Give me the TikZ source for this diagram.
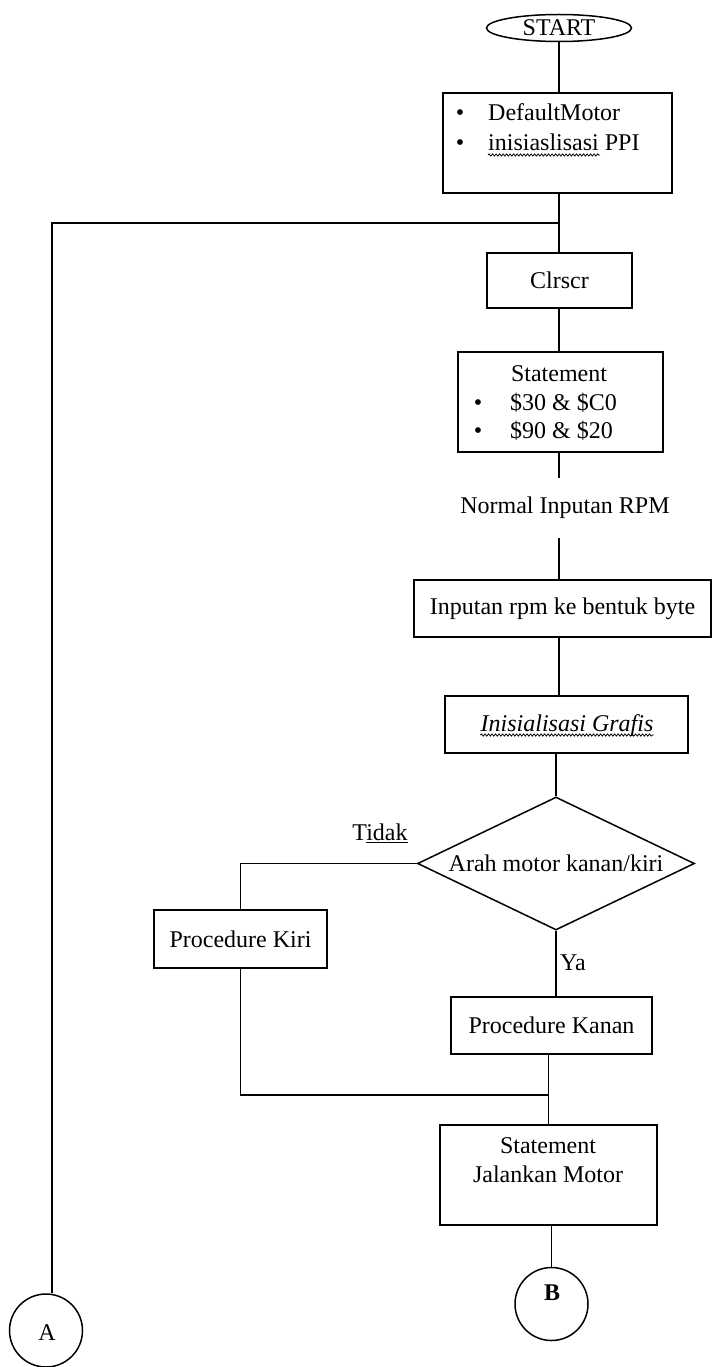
\documentclass[tikz,border=0pt]{standalone}
\usepackage{fontspec}
\setmainfont{Liberation Serif}
\usetikzlibrary{shapes.geometric,decorations.pathmorphing}
\begin{document}
\begin{tikzpicture}[x=1pt,y=-1pt,
  every node/.style={font=\fontsize{24}{28}\selectfont, inner sep=0pt},
  line/.style={line width=1.5pt},
  box/.style={draw, rectangle, line width=1.8pt, inner sep=0pt},
  wavy/.style={decorate, decoration={snake, amplitude=1.1pt, segment length=3.5pt}, line width=0.8pt},
  txt/.style={anchor=base west},
  bul/.style={anchor=base},
  ]
\useasboundingbox (0,0) rectangle (713,1367);
\coordinate (sp) at (559,0);

% START
\node[draw, ellipse, line width=1.5pt, minimum width=145pt, minimum height=27pt] (start) at (559,28) {START};

% box 1
\node[box, minimum width=229pt, minimum height=100pt] (b1) at (557.5,143) {};
\node[bul] (b1u1) at (460,121) {•};
\node[txt] (b1a) at (488,121) {DefaultMotor};
\node[bul] (b1u2) at (460,151) {•};
\node[txt] (b1b) at (488,151) {inisiaslisasi PPI};
\draw[wavy] ([yshift=-4pt]b1b.base west) -- ++(112,0);

% Clrscr
\node[box, minimum width=145pt, minimum height=55pt] (clr) at (559.5,280.5) {Clrscr};

% Statement box
\node[box, minimum width=205pt, minimum height=100pt] (st) at (560.5,402) {};
\node[anchor=base] (sta) at (559,381) {Statement};
\node[bul] (stu1) at (478,410) {•};
\node[txt] (stb) at (510,410) {\$30 \& \$C0};
\node[bul] (stu2) at (478,438) {•};
\node[txt] (stc) at (510,438) {\$90 \& \$20};

% Normal Inputan RPM
\node[minimum height=60pt] (nrm) at (565,508) {Normal Inputan RPM};

% Inputan
\node[box, minimum width=297pt, minimum height=57pt] (inp) at (562.5,608.5) {Inputan rpm ke bentuk byte};

% Grafis
\node[box, minimum width=243pt, minimum height=57pt] (gr) at (566.5,724.5) {};
\node[anchor=base] (grt) at (567,731) {\itshape Inisialisasi Grafis};
\draw[wavy] ([yshift=-4pt]grt.base west) -- ([yshift=-4pt]grt.base east);

% Decision
\node[draw, diamond, aspect=2.08, line width=1.5pt, minimum width=277pt, minimum height=133pt] (d) at (556,863.5) {Arah motor kanan/kiri};

\node[anchor=base] (tidak) at (380,840) {Tidak};
\draw[line width=0.7pt] ([xshift=14pt, yshift=-2.5pt]tidak.base west) -- ([yshift=-2.5pt]tidak.base east);

% Procedure Kiri
\node[box, minimum width=173pt, minimum height=58pt] (kiri) at (240.5,939) {Procedure Kiri};

% Ya
\node[anchor=west] (ya) at (560,963) {Ya};

% Procedure Kanan
\node[box, minimum width=201pt, minimum height=57pt] (kanan) at (551.5,1025.5) {Procedure Kanan};

\coordinate (j) at (548.5,1095);

% Statement Jalankan Motor
\node[box, minimum width=217pt, minimum height=100pt] (jal) at (548.5,1175) {};
\node[anchor=base] (jala) at (548,1153) {Statement};
\node[anchor=base] (jalb) at (548,1182) {Jalankan Motor};

% Connectors B and A
\node[draw, circle, line width=1.5pt, minimum size=73pt] (B) at (551.5,1304) {};
\node[anchor=base, font=\fontsize{24}{28}\selectfont\bfseries] (Bt) at (552,1300) {B};
\node[draw, circle, line width=1.5pt, minimum size=73pt] (A) at (46,1330.5) {};
\node[anchor=base] (At) at (47,1340) {A};

% lines
\draw[line] (start.south) -- (start.south |- b1.north);
\draw[line] (b1.south -| sp) -- (clr.north -| sp);
\draw[line] (clr.south -| sp) -- (st.north -| sp);
\draw[line] (st.south -| sp) -- (nrm.north -| sp);
\draw[line] (nrm.south -| sp) -- (inp.north -| sp);
\draw[line] (inp.south -| sp) -- (gr.north -| sp);
\draw[line] (gr.south -| d.north) -- (d.north);
\draw[line] (d.west) -| (kiri.north);
\draw[line] (d.south) -- (d.south |- kanan.north);
\draw[line] (kiri.south) |- (j);
\draw[line] (kanan.south -| j) -- (jal.north -| j);
\draw[line] (jal.south -| B.north) -- (B.north);
\coordinate (lc) at (52,223);
\draw[line] (lc -| sp) -- (lc) -- (lc |- A.north);
\end{tikzpicture}
\end{document}
